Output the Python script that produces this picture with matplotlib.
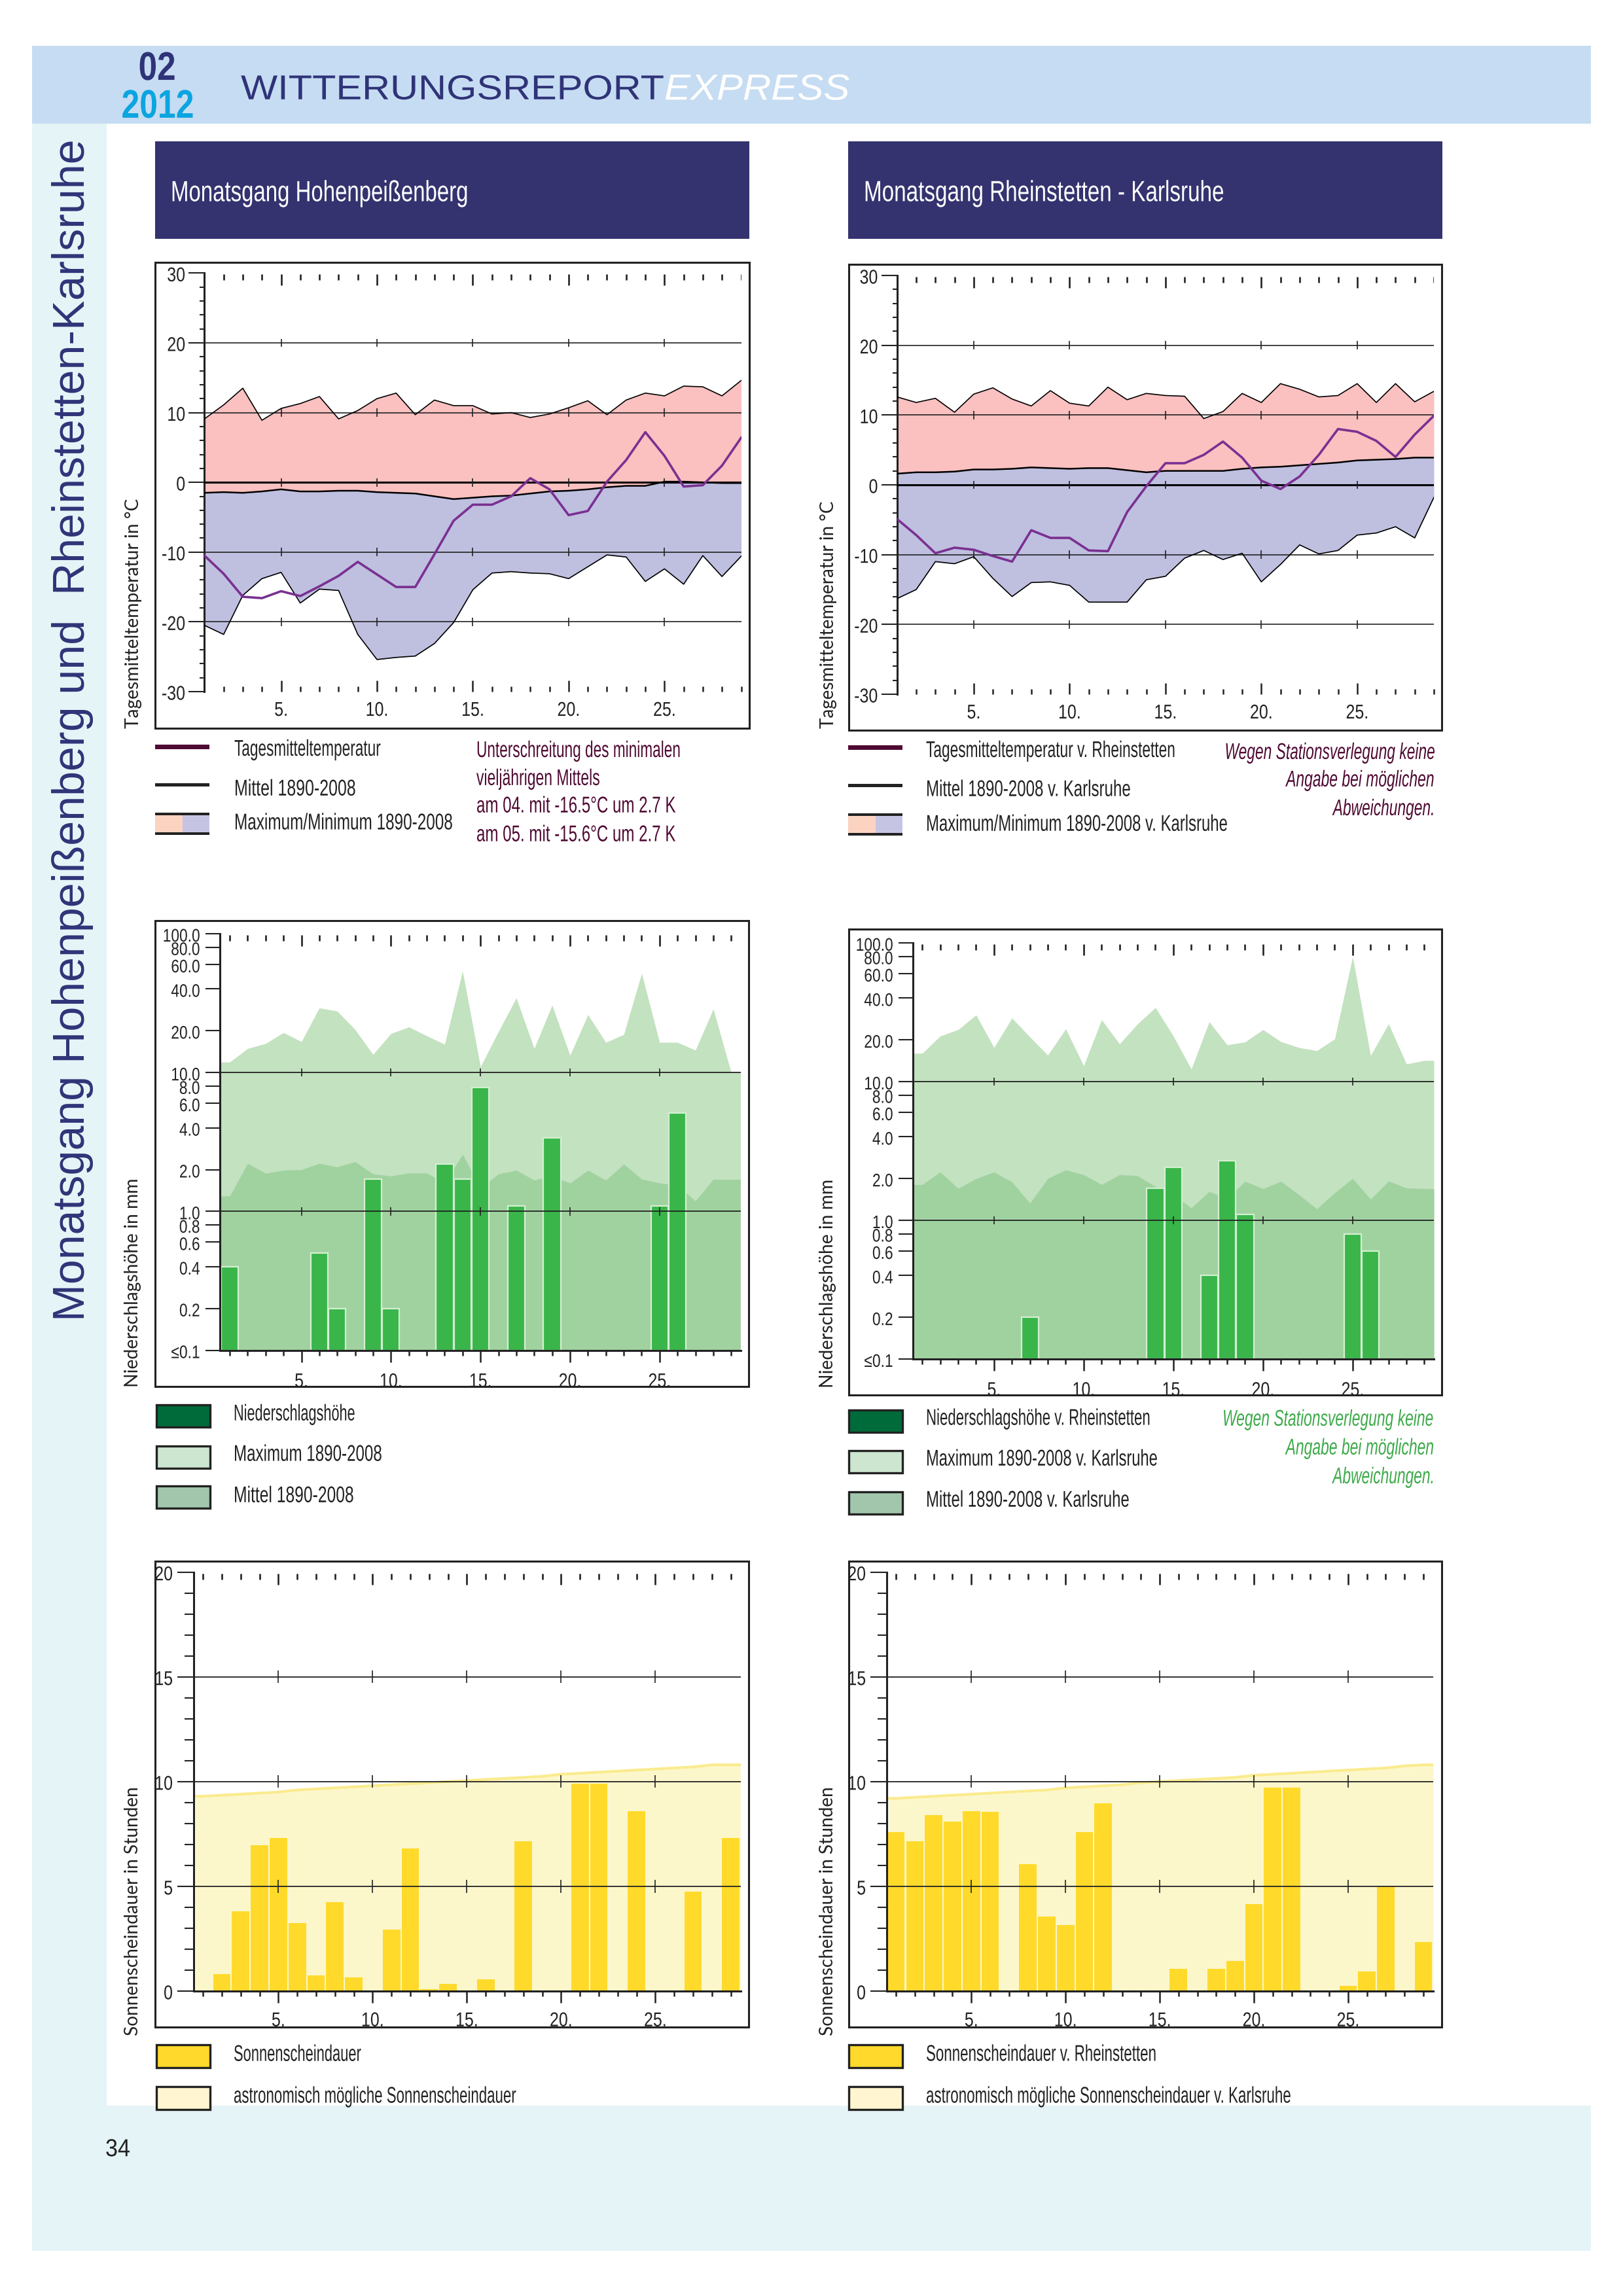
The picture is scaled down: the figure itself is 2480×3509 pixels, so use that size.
import numpy as np
import matplotlib
matplotlib.use("Agg")
import matplotlib.pyplot as plt
from matplotlib.patches import Rectangle
from matplotlib.patheffects import AbstractPathEffect
from matplotlib.ticker import NullLocator
from matplotlib.transforms import Affine2D

W, H = 2480, 3509

days = np.arange(1, 30)
major_days = [5, 10, 15, 20, 25]
minor_days = [d for d in days if d % 5]
major_labels = ["5.", "10.", "15.", "20.", "25."]

# Temperatur Hohenpeissenberg
temp_max_l = [9.1, 11.1, 13.5, 8.9, 10.6, 11.3, 12.3, 9.1, 10.3, 12.0, 12.8, 9.7, 11.8, 11.0, 11.0,
              9.8, 10.0, 9.3, 9.8, 10.7, 11.7, 9.7, 11.8, 12.8, 12.4, 13.8, 13.7, 12.4, 14.6]
temp_mean_l = [-1.5, -1.4, -1.5, -1.3, -1.0, -1.3, -1.3, -1.2, -1.2, -1.4, -1.5, -1.6, -2.0, -2.4, -2.2,
               -2.0, -1.9, -1.6, -1.3, -1.2, -1.0, -0.7, -0.5, -0.5, 0.1, 0.1, 0.0, -0.1, -0.1]
temp_min_l = [-20.5, -21.8, -16.2, -13.8, -12.9, -17.3, -15.3, -15.5, -21.8, -25.4, -25.1, -24.9, -23.1, -20.1, -15.4,
              -13.0, -12.8, -13.0, -13.1, -13.8, -12.1, -10.4, -10.7, -14.2, -12.4, -14.6, -10.5, -13.5, -10.6]
temp_day_l = [-10.5, -13.1, -16.4, -16.6, -15.6, -16.3, -14.9, -13.4, -11.4, -13.2, -15.0, -15.0, -10.3, -5.5, -3.2,
              -3.2, -2.0, 0.6, -1.0, -4.7, -4.1, 0.1, 3.2, 7.2, 3.8, -0.6, -0.4, 2.4, 6.4]

# Temperatur Rheinstetten / Karlsruhe
temp_max_r = [12.6, 11.8, 12.4, 10.4, 13.0, 13.9, 12.3, 11.3, 13.5, 11.7, 11.3, 14.0, 12.2, 13.1, 12.8,
              12.7, 9.5, 10.5, 13.1, 11.8, 14.5, 13.7, 12.6, 12.8, 14.5, 11.8, 14.5, 11.9, 13.4]
temp_mean_r = [1.6, 1.8, 1.8, 1.9, 2.2, 2.2, 2.3, 2.5, 2.4, 2.3, 2.4, 2.4, 2.1, 1.8, 2.0,
               2.0, 2.0, 2.0, 2.3, 2.5, 2.6, 2.8, 3.0, 3.2, 3.5, 3.6, 3.7, 3.9, 3.9]
temp_min_r = [-16.3, -15.0, -11.0, -11.3, -10.3, -13.4, -16.0, -14.0, -13.9, -14.4, -16.8, -16.8, -16.8, -13.6, -13.1,
              -10.5, -9.4, -10.7, -9.8, -13.9, -11.4, -8.6, -9.9, -9.4, -7.2, -6.9, -6.0, -7.6, -1.8]
temp_day_r = [-4.9, -7.2, -9.8, -9.0, -9.3, -10.2, -11.0, -6.5, -7.6, -7.6, -9.4, -9.5, -3.9, -0.2, 3.1,
              3.1, 4.3, 6.2, 3.9, 0.6, -0.6, 1.2, 4.3, 8.0, 7.6, 6.3, 4.0, 7.2, 9.9]

# Niederschlag
rain_max_l = [11.9, 14.9, 16.2, 19.4, 16.7, 29.2, 27.7, 20.4, 13.5, 19.1, 21.3, 18.4, 16.0, 53.9, 11.0,
              19.7, 34.5, 14.9, 30.6, 13.3, 26.1, 16.5, 18.8, 51.8, 16.5, 16.5, 14.5, 28.7, 10.0]
rain_mean_l = [1.29, 2.22, 1.88, 1.98, 2.0, 2.22, 2.09, 2.28, 1.86, 1.8, 1.89, 1.89, 1.6, 2.58, 1.47,
               1.86, 1.98, 1.68, 1.8, 1.6, 1.98, 1.68, 2.19, 1.71, 1.6, 1.55, 1.19, 1.7, 1.7]
rain_days_l = [1, 6, 7, 9, 10, 13, 14, 15, 17, 19, 25, 26]
rain_vals_l = [0.4, 0.5, 0.2, 1.7, 0.2, 2.2, 1.7, 7.8, 1.1, 3.4, 1.1, 5.1]

rain_max_r = [16.0, 21.3, 23.7, 30.2, 17.6, 28.7, 21.0, 15.5, 24.0, 13.0, 27.9, 18.7, 26.0, 34.2, 21.3,
              12.3, 27.0, 18.4, 19.3, 23.7, 19.4, 17.6, 16.7, 20.3, 79.4, 15.4, 26.1, 13.4, 14.2]
rain_mean_r = [1.81, 2.23, 1.7, 2.0, 2.23, 1.89, 1.33, 2.0, 2.31, 2.13, 1.81, 2.13, 2.1, 1.75, 1.53,
               1.23, 1.61, 1.44, 1.91, 1.69, 1.91, 1.53, 1.21, 1.58, 2.0, 1.42, 1.92, 1.71, 1.69]
rain_days_r = [7, 14, 15, 17, 18, 19, 25, 26]
rain_vals_r = [0.2, 1.7, 2.4, 0.4, 2.7, 1.1, 0.8, 0.6]

rain_ticks = [0.1, 0.2, 0.4, 0.6, 0.8, 1, 2, 4, 6, 8, 10, 20, 40, 60, 80, 100]
rain_tick_labels = ["≤0.1", "0.2", "0.4", "0.6", "0.8", "1.0", "2.0", "4.0", "6.0", "8.0",
                    "10.0", "20.0", "40.0", "60.0", "80.0", "100.0"]

# Sonnenschein
sun_l = [0, 0.8, 3.8, 6.95, 7.3, 3.25, 0.75, 4.25, 0.65, 0, 2.95, 6.8, 0.1, 0.35, 0,
         0.55, 0, 7.15, 0, 0, 9.9, 9.9, 0, 8.6, 0, 0, 4.75, 0, 7.3]
sun_r = [7.6, 7.15, 8.4, 8.1, 8.6, 8.55, 0, 6.05, 3.55, 3.15, 7.6, 8.95, 0, 0, 0,
         1.05, 0, 1.05, 1.45, 4.15, 9.7, 9.7, 0, 0, 0.25, 0.95, 5.0, 0, 2.35]
sun_poss_l = [9.3, 9.35, 9.4, 9.45, 9.5, 9.6, 9.65, 9.7, 9.75, 9.8, 9.85, 9.9, 9.95, 10.0, 10.05,
              10.1, 10.15, 10.2, 10.25, 10.35, 10.4, 10.45, 10.5, 10.55, 10.6, 10.65, 10.7, 10.8, 10.8]
sun_poss_r = [9.2, 9.25, 9.3, 9.35, 9.4, 9.45, 9.5, 9.55, 9.6, 9.7, 9.75, 9.8, 9.85, 9.95, 10.0,
              10.05, 10.1, 10.15, 10.2, 10.3, 10.35, 10.4, 10.45, 10.5, 10.55, 10.6, 10.65, 10.75, 10.8]

NAVY = "#34336F"
DARK = "#222222"
WINE = "#4F0A33"
GREEN_NOTE = "#3DAA4A"
SANS = "Liberation Sans"
TICK_TALL = 1.22

fig = plt.figure(figsize=(W / 100, H / 100), dpi=100, facecolor="white")
bg = fig.add_axes([0, 0, 1, 1], zorder=0)
bg.set_xlim(0, W)
bg.set_ylim(H, 0)
bg.axis("off")
renderer = fig.canvas.get_renderer()


class Tall(AbstractPathEffect):
    # no condensed font is installed: a smaller size with taller glyphs looks the same
    def __init__(self, sy, yc=None, dy=0):
        super().__init__()
        self.sy = sy
        self.yc = yc
        self.dy = dy

    def draw_path(self, renderer, gc, tpath, affine, rgbFace=None):
        y0 = affine.transform_point((0, 0))[1] if self.yc is None else self.yc
        stretch = Affine2D().translate(0, -y0).scale(1, self.sy).translate(0, y0 + self.dy)
        renderer.draw_path(gc, tpath, affine + stretch, rgbFace)


def rect(x0, y0, x1, y1, color, edge="none", lw=0):
    bg.add_patch(Rectangle((x0, y0), x1 - x0, y1 - y0, facecolor=color, edgecolor=edge, linewidth=lw))


def put(x, y, s, width, size=25, color=DARK, ha="left", family=SANS, **kw):
    # size sets the letter height, width is the measured width on the page
    t = bg.text(x, y, s, fontsize=size, color=color, ha=ha, va="center", family=family, **kw)
    fitted = size * width / t.get_window_extent(renderer).width
    t.set_fontsize(fitted)
    box = t.get_window_extent(renderer)
    t.set_path_effects([Tall(size / fitted, (box.y0 + box.y1) / 2)])
    return t


def put_up(x, y, s, length, color=DARK, family=SANS):
    # rotated text, size fitted to its length
    t = bg.text(x, y, s, fontsize=20, color=color, ha="center", va="center", family=family, rotation=90)
    t.set_fontsize(20 * length / t.get_window_extent(renderer).height)
    return t


def make_axes(x0, x1, ytop, ybot):
    ax = fig.add_axes([x0 / W, 1 - ybot / H, (x1 - x0) / W, (ybot - ytop) / H], zorder=2)
    ax.patch.set_visible(False)
    ax.spines["top"].set_visible(False)
    ax.spines["right"].set_visible(False)
    ax.spines["left"].set_linewidth(2.2)
    ax.spines["left"].set_color(DARK)
    ax.spines["bottom"].set_linewidth(2.2)
    ax.spines["bottom"].set_color(DARK)
    ax.set_axisbelow(False)
    return ax


def day_ticks(ax, direction, pad, major_len, minor_len):
    ax.set_xticks(major_days, major_labels, family=SANS, fontsize=18, color=DARK)
    ax.set_xticks(minor_days, minor=True)
    ax.tick_params(axis="x", which="major", direction=direction, length=major_len, width=1.8, pad=pad, color=DARK)
    ax.tick_params(axis="x", which="minor", direction=direction, length=minor_len, width=1.8, color=DARK)
    # small marks along the upper edge
    h = ax.get_window_extent(renderer).height
    trans = ax.get_xaxis_transform()
    ax.vlines(minor_days, 1 - 11 / h, 1 - 2 / h, transform=trans, color=DARK, lw=1.9)
    ax.vlines(major_days, 1 - 19 / h, 1 - 2 / h, transform=trans, color=DARK, lw=1.9)
    for lab in ax.get_xticklabels():
        lab.set_path_effects([Tall(TICK_TALL)])
    for lab in ax.get_yticklabels():
        lab.set_path_effects([Tall(TICK_TALL, dy=-3)])


def temp_panel(x0, x1, ytop, ybot, tmax, tmean, tmin, tday):
    ax = make_axes(x0, x1, ytop, ybot)
    ax.set_xlim(1, 29)
    ax.set_ylim(-30, 30)
    ax.fill_between(days, tmean, tmax, color="#FBC0C0", lw=0, zorder=1)
    ax.fill_between(days, tmin, tmean, color="#BFBFE0", lw=0, zorder=1)
    for g in [20, 10, -10, -20]:
        ax.axhline(g, color=DARK, lw=1.2, zorder=3)
        ax.vlines(major_days, g - 0.6, g + 0.6, color=DARK, lw=1.2, zorder=3)
    ax.axhline(0, color="black", lw=2.2, zorder=3)
    ax.vlines(major_days, -0.6, 0.6, color=DARK, lw=1.2, zorder=3)
    ax.plot(days, tmax, color="black", lw=1.2, zorder=3)
    ax.plot(days, tmin, color="black", lw=1.2, zorder=3)
    ax.plot(days, tmean, color="black", lw=1.8, zorder=3)
    ax.plot(days, tday, color="#7A3091", lw=2.6, zorder=4)
    ax.spines["bottom"].set_visible(False)
    ax.set_yticks([-30, -20, -10, 0, 10, 20, 30], ["-30", "-20", "-10", "0", "10", "20", "30"],
                  family=SANS, fontsize=18, color=DARK)
    ax.set_yticks(np.arange(-30, 31, 2), minor=True)
    ax.tick_params(axis="y", which="major", length=17, width=1.5, pad=4, color=DARK)
    ax.tick_params(axis="y", which="minor", length=5, width=1.5, color=DARK)
    day_ticks(ax, "in", 13, 12, 6)
    return ax


def rain_panel(x0, x1, ytop, ybot, xlo, xhi, rmax, rmean, bar_days, bar_vals):
    ax = make_axes(x0, x1, ytop, ybot)
    ax.set_yscale("log")
    ax.set_xlim(xlo, xhi)
    ax.set_ylim(0.1, 100)
    xs = np.r_[xlo, days, xhi]
    ax.fill_between(xs, 0.1, np.r_[rmax[0], rmax, rmax[-1]], color="#C3E2C0", lw=0, zorder=1)
    ax.fill_between(xs, 0.1, np.r_[rmean[0], rmean, rmean[-1]], color="#A0D2A0", lw=0, zorder=1)
    ax.bar(bar_days, np.array(bar_vals) - 0.1, bottom=0.1, width=0.96, color="#39B54A",
           edgecolor="#D5EFD2", linewidth=1.6, zorder=2)
    for g in [1, 10]:
        ax.axhline(g, color=DARK, lw=1.3, zorder=3)
        ax.vlines(major_days, g / 1.07, g * 1.07, color=DARK, lw=1.2, zorder=3)
    ax.set_yticks(rain_ticks, rain_tick_labels, family=SANS, fontsize=16.4, color=DARK)
    ax.yaxis.set_minor_locator(NullLocator())
    ax.tick_params(axis="y", which="major", length=16, width=1.5, pad=6, color=DARK)
    day_ticks(ax, "out", 14, 13, 6)
    return ax


def sun_panel(x0, x1, ytop, ybot, xlo, xhi, poss, sun):
    ax = make_axes(x0, x1, ytop, ybot)
    ax.set_xlim(xlo, xhi)
    ax.set_ylim(0, 20)
    xs = np.r_[days[0] - 0.4, days, xhi]
    ys = np.r_[poss[0], poss, poss[-1]]
    ax.fill_between(xs, 0, ys, color="#FCF7CB", lw=0, zorder=1)
    ax.plot(xs, ys, color="#FBEB8E", lw=3, zorder=1)
    ax.bar(days, sun, width=0.93, color="#FFDA2B", lw=0, zorder=2)
    for g in [5, 10, 15]:
        ax.axhline(g, color=DARK, lw=1.3, zorder=3)
        ax.vlines(major_days, g - 0.3, g + 0.3, color=DARK, lw=1.2, zorder=3)
    ax.set_yticks([0, 5, 10, 15, 20], ["0", "5", "10", "15", "20"], family=SANS, fontsize=18, color=DARK)
    ax.set_yticks(np.arange(0, 21, 1), minor=True)
    ax.tick_params(axis="y", which="major", length=18, width=1.5, pad=5, color=DARK)
    ax.tick_params(axis="y", which="minor", length=10, width=1.5, color=DARK)
    day_ticks(ax, "out", 12, 13, 6)
    return ax


# page furniture
rect(49, 70, 2431, 189, "#C6DCF2")
rect(49, 189, 163, 3218, "#E5F4F6")
rect(49, 3218, 2431, 3440, "#E5F4F6")
rect(237, 216, 1145, 365, NAVY)
rect(1296, 216, 2204, 365, NAVY)
put(240, 106, "02", 57, size=44, color="#2F3378", ha="center", weight="bold")
put(241, 164, "2012", 111, size=44, color="#0BA5E0", ha="center", weight="bold")
put(368, 138, "WITTERUNGSREPORT", 647, size=38, color="#2F3378")
put(1015, 138, "EXPRESS", 283, size=40, color="white", style="italic")
put(261, 296, "Monatsgang Hohenpeißenberg", 455, size=32, color="white")
put(1320, 296, "Monatsgang Rheinstetten - Karlsruhe", 551, size=32, color="white")
put_up(111, 1116, "Monatsgang Hohenpeißenberg und  Rheinstetten-Karlsruhe", 1800, color="#2F3378")
put(161, 3286, "34", 38, size=27)

# chart frames
for x0, x1, y0, y1 in [(237, 1145, 401, 1113), (1297, 2203, 404, 1116),
                       (237, 1144, 1407, 2119), (1297, 2203, 1420, 2132),
                       (237, 1144, 2386, 3098), (1297, 2203, 2386, 3098)]:
    rect(x0, y0, x1, y1, "white", edge=DARK, lw=2.2)

temp_panel(312.4, 1132.5, 417.4, 1057, temp_max_l, temp_mean_l, temp_min_l, temp_day_l)
temp_panel(1370.7, 2191, 421, 1061, temp_max_r, temp_mean_r, temp_min_r, temp_day_r)
rain_panel(336, 1131.5, 1427, 2063.6, 0.45, 29.52, rain_max_l, rain_mean_l, rain_days_l, rain_vals_l)
rain_panel(1395, 2191, 1441, 2077, 0.48, 29.53, rain_max_r, rain_mean_r, rain_days_r, rain_vals_r)
sun_panel(296, 1131.5, 2402.7, 3043, 0.51, 29.52, sun_poss_l, sun_l)
sun_panel(1355, 2190, 2402.7, 3043, 0.51, 29.52, sun_poss_r, sun_r)

# y axis titles
put_up(204, 937, "Tagesmitteltemperatur in °C", 351, family="Lato")
put_up(1266, 939, "Tagesmitteltemperatur in °C", 348, family="Lato")
put_up(203, 1960, "Niederschlagshöhe in mm", 320, family="Lato")
put_up(1265, 1961, "Niederschlagshöhe in mm", 319, family="Lato")
put_up(203, 2921, "Sonnenscheindauer in Stunden", 382, family="Lato")
put_up(1265, 2921, "Sonnenscheindauer in Stunden", 382, family="Lato")

# legends, temperature
for x0, dy in [(237, 0), (1296, 1)]:
    rect(x0, 1138 + dy, x0 + 83, 1145 + dy, WINE)
    rect(x0, 1197 + dy, x0 + 83, 1202 + dy, DARK)
    rect(x0, 1242 + dy, x0 + 42, 1276 + dy, "#FCD3C1")
    rect(x0 + 42, 1242 + dy, x0 + 83, 1276 + dy, "#C5C5E3")
    rect(x0, 1242 + dy, x0 + 83, 1246 + dy, DARK)
    rect(x0, 1272 + dy, x0 + 83, 1276 + dy, DARK)
put(358, 1145, "Tagesmitteltemperatur", 224)
put(358, 1206, "Mittel 1890-2008", 186)
put(358, 1259, "Maximum/Minimum 1890-2008", 334)
put(1415, 1147, "Tagesmitteltemperatur v. Rheinstetten", 381)
put(1415, 1208, "Mittel 1890-2008 v. Karlsruhe", 313)
put(1415, 1261, "Maximum/Minimum 1890-2008 v. Karlsruhe", 461)
put(728, 1147, "Unterschreitung des minimalen", 312, color=WINE)
put(728, 1190, "vieljährigen Mittels", 189, color=WINE)
put(728, 1233, "am 04. mit -16.5°C um 2.7 K", 304, color=WINE)
put(728, 1277, "am 05. mit -15.6°C um 2.7 K", 304, color=WINE)
for y, s, w in [(1150, "Wegen Stationsverlegung keine", 322), (1192, "Angabe bei möglichen", 227), (1236, "Abweichungen.", 156)]:
    put(2192, y, s, w, color=WINE, ha="right", style="italic")

# legends, precipitation
for x0, tops, in [(238.7, (2147, 2210, 2271)), (1297, (2155, 2217, 2280))]:
    for y0, col in zip(tops, ["#006B3A", "#CDE6D0", "#A2C6AC"]):
        rect(x0, y0, x0 + 82, y0 + 34, col, edge=DARK, lw=2.4)
put(357, 2162, "Niederschlagshöhe", 186)
put(357, 2224, "Maximum 1890-2008", 227)
put(357, 2286, "Mittel 1890-2008", 184)
put(1415, 2169, "Niederschlagshöhe v. Rheinstetten", 343)
put(1415, 2231, "Maximum 1890-2008 v. Karlsruhe", 354)
put(1415, 2294, "Mittel 1890-2008 v. Karlsruhe", 311)
for y, s, w in [(2169, "Wegen Stationsverlegung keine", 323), (2213, "Angabe bei möglichen", 227), (2257, "Abweichungen.", 156)]:
    put(2191.5, y, s, w, color=GREEN_NOTE, ha="right", style="italic")

# legends, sunshine
for x0 in [238.7, 1297]:
    rect(x0, 3125, x0 + 82, 3160, "#FFD92B", edge=DARK, lw=2.4)
    rect(x0, 3189, x0 + 82, 3224, "#FFF5D0", edge=DARK, lw=2.4)
put(357, 3141, "Sonnenscheindauer", 195)
put(357, 3205, "astronomisch mögliche Sonnenscheindauer", 432)
put(1415, 3141, "Sonnenscheindauer v. Rheinstetten", 352)
put(1415, 3205, "astronomisch mögliche Sonnenscheindauer v. Karlsruhe", 558)

fig.savefig("out.png", dpi=100, facecolor="white")
